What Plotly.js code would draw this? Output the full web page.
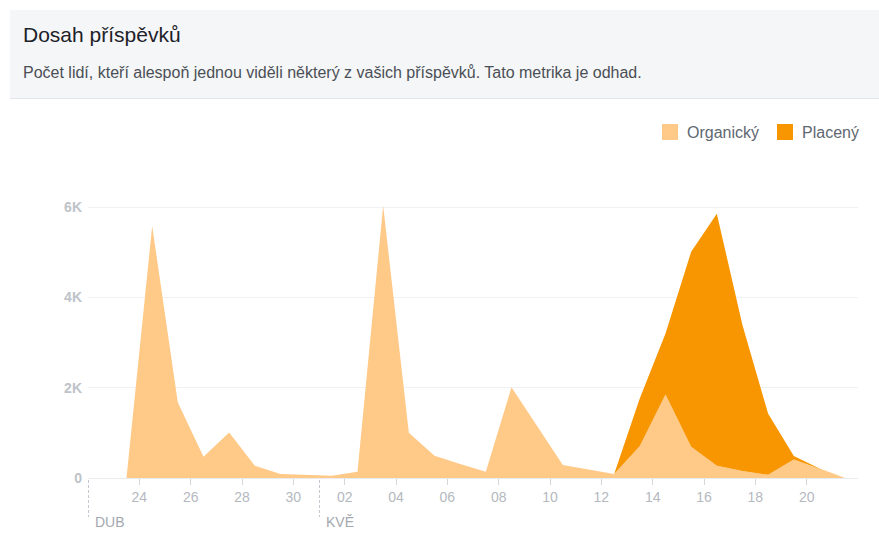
<!DOCTYPE html>
<html>
<head>
<meta charset="utf-8">
<script src="https://cdn.plot.ly/plotly-3.0.1.min.js"></script>
<style>
html,body{margin:0;padding:0;background:#fff;}
#chart{width:879px;height:533px;}
</style>
</head>
<body>
<div id="chart"></div>
<script>
// ---- data ----
const dates = [
  '2019-04-23 12:00','2019-04-24 12:00','2019-04-25 12:00','2019-04-26 12:00','2019-04-27 12:00',
  '2019-04-28 12:00','2019-04-29 12:00','2019-04-30 12:00','2019-05-01 12:00','2019-05-02 12:00',
  '2019-05-03 12:00','2019-05-04 12:00','2019-05-05 12:00','2019-05-06 12:00','2019-05-07 12:00',
  '2019-05-08 12:00','2019-05-09 12:00','2019-05-10 12:00','2019-05-11 12:00','2019-05-12 12:00',
  '2019-05-13 12:00','2019-05-14 12:00','2019-05-15 12:00','2019-05-16 12:00','2019-05-17 12:00',
  '2019-05-18 12:00','2019-05-19 12:00','2019-05-20 12:00','2019-05-21 12:00'
];
const organic = [0,5580,1670,470,1010,270,90,70,50,140,6030,1000,490,310,140,2010,1150,290,190,90,710,1850,690,270,155,70,410,210,0];
const paid    = [0,0,0,0,0,0,0,0,0,0,0,0,0,0,0,0,0,0,0,0,1055,1350,4320,5580,3230,1350,75,0,0];
const seriesNames = ['Organický','Placený'];
const xTickVals = ['2019-04-24','2019-04-26','2019-04-28','2019-04-30','2019-05-02','2019-05-04',
                   '2019-05-06','2019-05-08','2019-05-10','2019-05-12','2019-05-14','2019-05-16',
                   '2019-05-18','2019-05-20'];
const xTickText = ['24','26','28','30','02','04','06','08','10','12','14','16','18','20'];
const xRange = ['2019-04-22','2019-05-22'];
const yTickVals = [0,2000,4000,6000];
const yTickText = ['0','2K','4K','6K'];
const monthStarts = ['2019-04-22','2019-05-01'];
const monthLabels = ['DUB','KVĚ'];
const titleText = 'Dosah příspěvků';
const subtitleText = 'Počet lidí, kteří alespoň jednou viděli některý z vašich příspěvků. Tato metrika je odhad.';

// ---- layout geometry ----
const W = 879, H = 533;
const L = 88, R = 858, T = 198, B = 478;
const px = x => (x - L) / (R - L);
const py = y => (B - y) / (B - T);
const t0 = Date.parse(xRange[0] + 'T00:00:00Z'), t1 = Date.parse(xRange[1] + 'T00:00:00Z');
const dateToPaper = d => (Date.parse(d + 'T00:00:00Z') - t0) / (t1 - t0);

const cLight = '#ffc988';
const cDark = '#f79600';
const FONT = '"Liberation Sans", Arial, Helvetica, sans-serif';

const traces = [
  {x: dates, y: organic, name: seriesNames[0], type: 'scatter', mode: 'lines',
   stackgroup: 'one', fillcolor: cLight, line: {width: 0, color: cLight}, hoverinfo: 'skip'},
  {x: dates, y: paid, name: seriesNames[1], type: 'scatter', mode: 'lines',
   stackgroup: 'one', fillcolor: cDark, line: {width: 0, color: cDark}, hoverinfo: 'skip'}
];

const shapes = [
  {type: 'rect', xref: 'paper', yref: 'paper', x0: px(10), x1: px(879), y0: py(98), y1: py(10),
   fillcolor: '#f5f6f7', line: {width: 0}, layer: 'below'},
  {type: 'line', xref: 'paper', yref: 'paper', x0: px(10), x1: px(879), y0: py(98.5), y1: py(98.5),
   line: {color: '#e3e5e8', width: 1}},
  {type: 'rect', xref: 'paper', yref: 'paper', x0: px(662), x1: px(678), y0: py(140), y1: py(124),
   fillcolor: cLight, line: {width: 0}},
  {type: 'rect', xref: 'paper', yref: 'paper', x0: px(777), x1: px(793), y0: py(140), y1: py(124),
   fillcolor: cDark, line: {width: 0}}
];
monthStarts.forEach(d => shapes.push({
  type: 'line', xref: 'paper', yref: 'paper', x0: dateToPaper(d) + 0.5/(R-L), x1: dateToPaper(d) + 0.5/(R-L),
  y0: py(480), y1: py(517),
  line: {color: '#c4c8ce', width: 1, dash: '3px,2px'}
}));

const annotations = [
  {text: titleText, xref: 'paper', yref: 'paper', x: px(21), y: py(34), xanchor: 'left', yanchor: 'middle',
   showarrow: false, font: {family: FONT, size: 21, color: '#1d2129'}},
  {text: subtitleText, xref: 'paper', yref: 'paper', x: px(21), y: py(72), xanchor: 'left', yanchor: 'middle',
   showarrow: false, font: {family: FONT, size: 16, color: '#4b4f56'}},
  {text: seriesNames[0], xref: 'paper', yref: 'paper', x: px(685), y: py(132), xanchor: 'left', yanchor: 'middle',
   showarrow: false, font: {family: FONT, size: 16, color: '#606770'}},
  {text: seriesNames[1], xref: 'paper', yref: 'paper', x: px(800), y: py(132), xanchor: 'left', yanchor: 'middle',
   showarrow: false, font: {family: FONT, size: 16, color: '#606770'}}
];
monthStarts.forEach((d, i) => annotations.push({
  text: monthLabels[i], xref: 'paper', yref: 'paper', x: dateToPaper(d), y: py(522), xanchor: 'left', yanchor: 'middle',
  xshift: 5, showarrow: false, font: {family: FONT, size: 14, color: '#a3a8b0'}
}));

const layout = {
  width: W, height: H,
  margin: {l: L, r: W - R, t: T, b: H - B, pad: 0},
  paper_bgcolor: '#ffffff', plot_bgcolor: '#ffffff',
  showlegend: false,
  font: {family: FONT},
  xaxis: {
    type: 'date', range: xRange,
    tickmode: 'array', tickvals: xTickVals, ticktext: xTickText,
    showgrid: false, zeroline: false,
    showline: true, linecolor: '#e9ebee', linewidth: 1,
    ticks: 'outside', ticklen: 6, tickcolor: '#d3d6db', tickwidth: 1,
    ticklabelstandoff: 0,
    tickfont: {family: FONT, size: 14, color: '#b4b9c0'}
  },
  yaxis: {
    range: [0, 6200], tickmode: 'array', tickvals: yTickVals, ticktext: yTickText,
    showgrid: true, gridcolor: '#f0f1f2', gridwidth: 1, zeroline: false,
    showline: false, ticks: '',
    ticklabelstandoff: 5,
    tickfont: {family: FONT, size: 14, color: '#bec3c9', weight: 'bold'}
  },
  shapes: shapes,
  annotations: annotations
};

Plotly.newPlot('chart', traces, layout, {displayModeBar: false, staticPlot: true});
</script>
</body>
</html>
